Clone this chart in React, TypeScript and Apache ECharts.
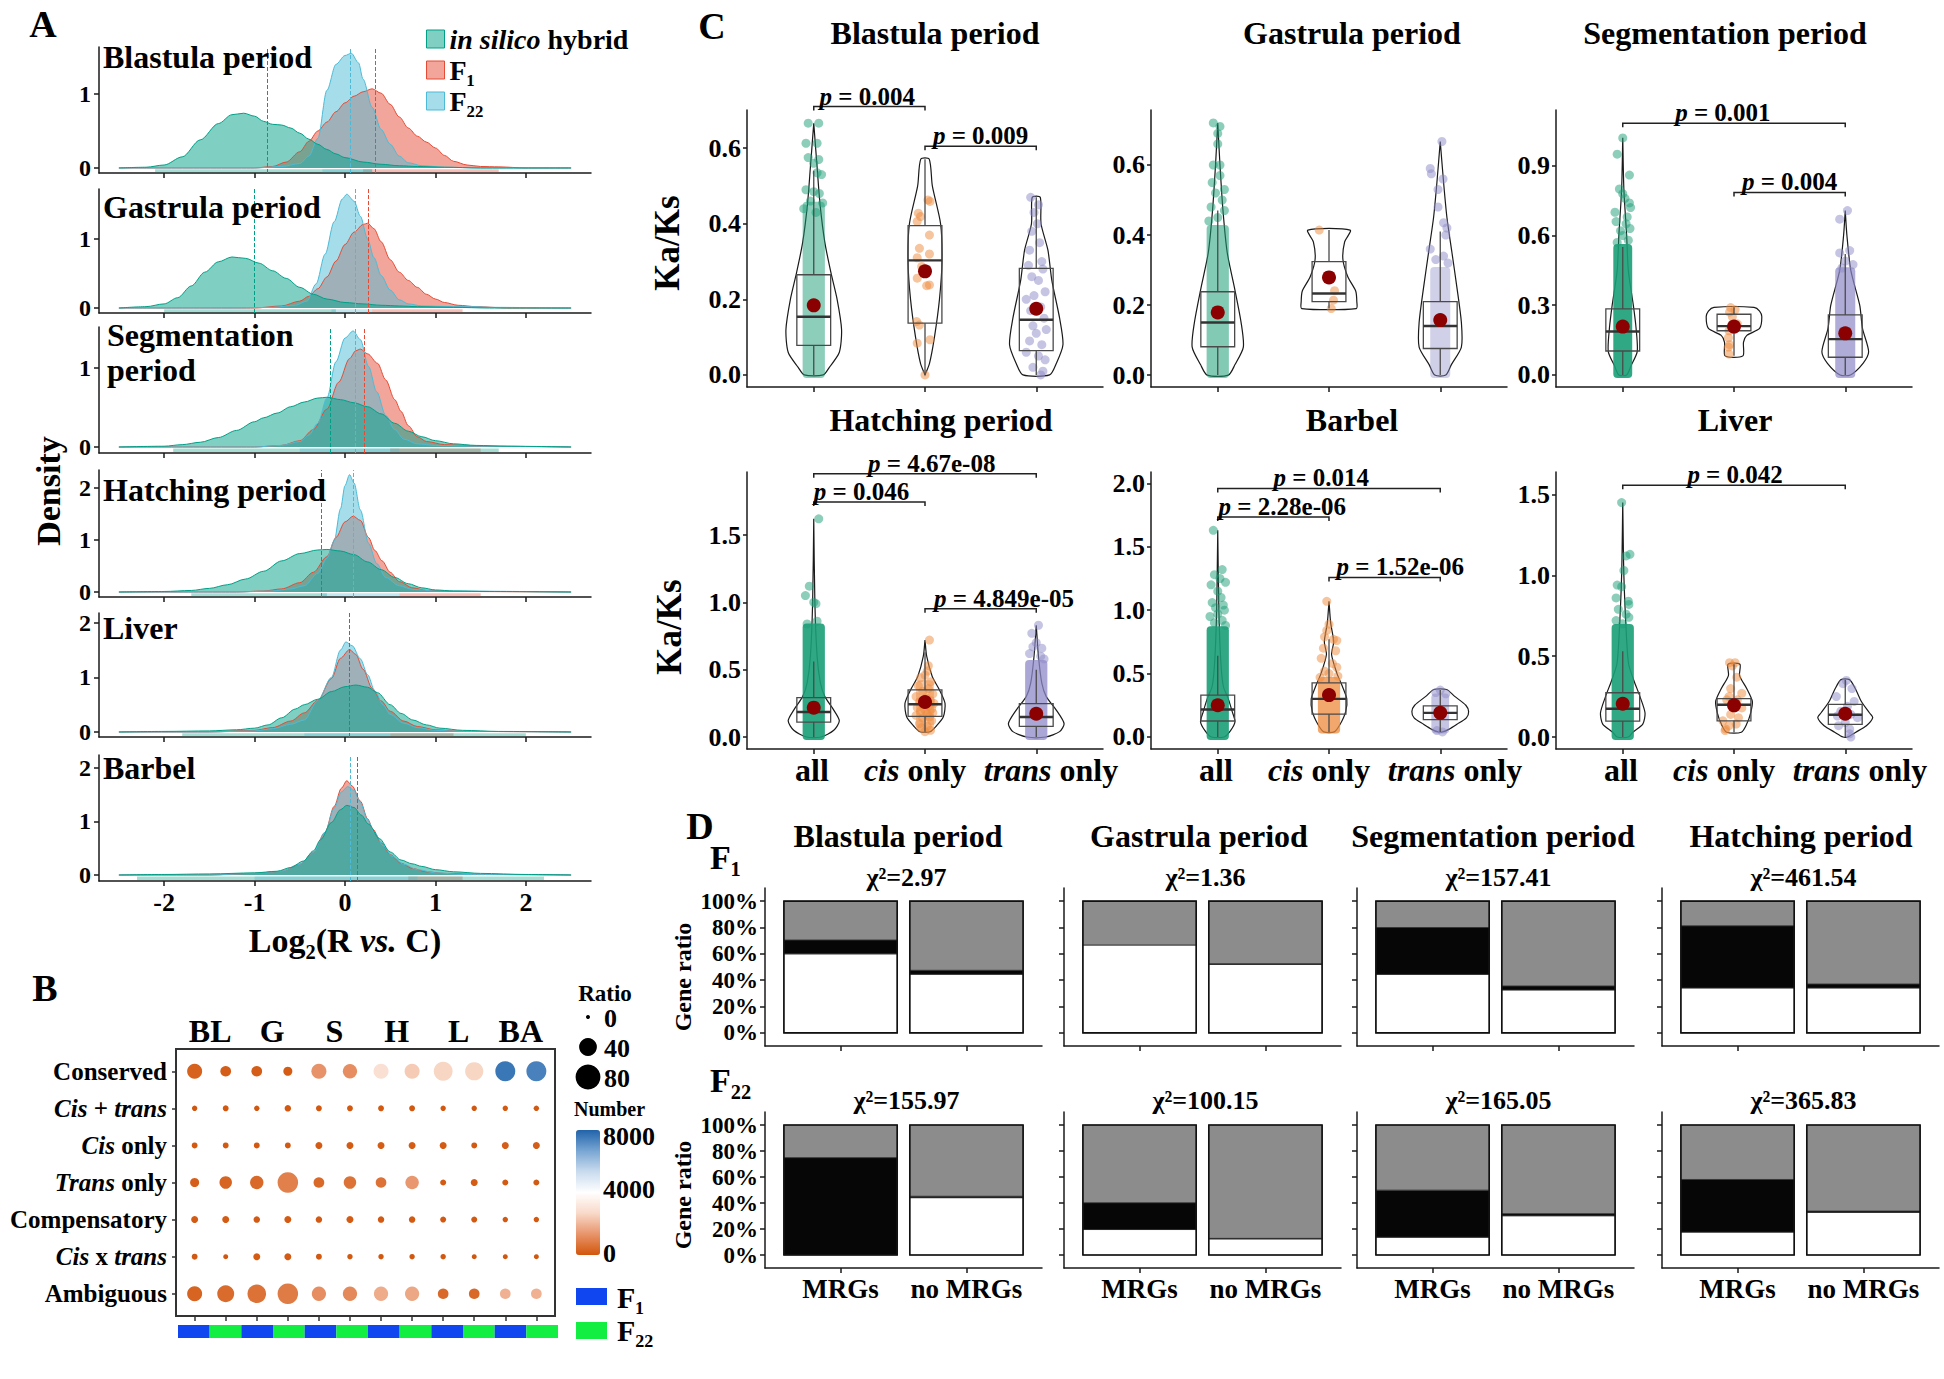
import React, { useEffect, useRef } from 'react';
import * as echarts from 'echarts';

const FONT = "'Liberation Serif', 'Times New Roman', serif";

/* ======================= Panel A : densities ======================= */
const aPeriods = ['Blastula period', 'Gastrula period', 'Segmentation', 'Hatching period', 'Liver', 'Barbel'];
const aGroups = ['in silico hybrid', 'F1', 'F22'];
const aXTicks = [-2, -1, 0, 1, 2];
const aYTicks = [[0, 1], [0, 1], [0, 1], [0, 1, 2], [0, 1, 2], [0, 1, 2]];
const aYLimits = [[-0.068, 1.635], [-0.072, 1.725], [-0.076, 1.52], [-0.096, 2.35], [-0.092, 2.18], [-0.112, 2.24]];

const blastulaInSilico = [[-2.5,0],[-2.2,0.01],[-2.0,0.04],[-1.8,0.15],[-1.6,0.38],[-1.4,0.6],[-1.25,0.72],[-1.12,0.74],[-1.0,0.7],[-0.9,0.63],[-0.8,0.59],[-0.7,0.58],[-0.6,0.54],[-0.5,0.47],[-0.4,0.39],[-0.3,0.32],[-0.2,0.25],[-0.1,0.19],[0,0.14],[0.2,0.08],[0.4,0.05],[0.6,0.03],[0.8,0.02],[1.1,0.01],[1.5,0],[2.5,0]];
const blastulaF1 = [[-2.5,0],[-1.0,0],[-0.8,0.02],[-0.65,0.08],[-0.5,0.22],[-0.4,0.36],[-0.3,0.5],[-0.2,0.62],[-0.1,0.76],[0,0.88],[0.1,0.97],[0.2,1.03],[0.3,1.07],[0.4,1.01],[0.5,0.86],[0.6,0.69],[0.7,0.54],[0.8,0.43],[0.9,0.35],[1.0,0.27],[1.1,0.17],[1.2,0.09],[1.35,0.04],[1.5,0.02],[1.7,0.015],[2.0,0],[2.5,0]];
const blastulaF22 = [[-2.5,0],[-1.0,0],[-0.7,0.02],[-0.5,0.06],[-0.4,0.16],[-0.3,0.4],[-0.2,1.05],[-0.1,1.4],[0,1.52],[0.07,1.55],[0.15,1.42],[0.2,1.2],[0.3,0.82],[0.4,0.52],[0.5,0.32],[0.6,0.16],[0.7,0.07],[0.85,0.03],[1.1,0.01],[1.5,0],[2.5,0]];

const gastrulaInSilico = [[-2.5,0],[-2.2,0.02],[-2.0,0.06],[-1.85,0.15],[-1.7,0.32],[-1.55,0.52],[-1.4,0.67],[-1.25,0.74],[-1.1,0.72],[-0.95,0.65],[-0.8,0.54],[-0.65,0.43],[-0.5,0.3],[-0.35,0.2],[-0.2,0.13],[0,0.08],[0.2,0.06],[0.4,0.04],[0.6,0.03],[0.8,0.02],[1.2,0.01],[1.6,0],[2.5,0]];
const gastrulaF1 = [[-2.5,0],[-1.0,0],[-0.7,0.03],[-0.5,0.1],[-0.4,0.17],[-0.3,0.28],[-0.2,0.45],[-0.1,0.68],[0,0.92],[0.1,1.1],[0.2,1.21],[0.25,1.23],[0.32,1.15],[0.4,0.96],[0.5,0.7],[0.6,0.52],[0.7,0.4],[0.8,0.3],[0.9,0.2],[1.0,0.13],[1.1,0.08],[1.25,0.04],[1.45,0.02],[1.8,0],[2.5,0]];
const gastrulaF22 = [[-2.5,0],[-1.2,0],[-0.8,0.01],[-0.55,0.04],[-0.42,0.1],[-0.32,0.35],[-0.22,0.78],[-0.12,1.25],[-0.03,1.58],[0.02,1.65],[0.1,1.55],[0.17,1.33],[0.25,1.0],[0.32,0.73],[0.4,0.47],[0.5,0.26],[0.6,0.12],[0.7,0.06],[0.85,0.03],[1.2,0.02],[1.45,0.02],[1.6,0.01],[2.5,0]];

const segmentationInSilico = [[-2.5,0],[-2.0,0.01],[-1.8,0.03],[-1.6,0.06],[-1.4,0.12],[-1.2,0.21],[-1.0,0.32],[-0.9,0.37],[-0.75,0.43],[-0.6,0.51],[-0.45,0.57],[-0.3,0.62],[-0.2,0.63],[-0.05,0.6],[0.1,0.56],[0.25,0.51],[0.4,0.42],[0.55,0.3],[0.7,0.2],[0.85,0.13],[1.0,0.08],[1.2,0.04],[1.45,0.02],[1.8,0.01],[2.5,0]];
const segmentationF1 = [[-2.5,0],[-1.0,0],[-0.7,0.02],[-0.5,0.08],[-0.35,0.22],[-0.2,0.48],[-0.07,0.82],[0.05,1.12],[0.12,1.22],[0.17,1.24],[0.25,1.18],[0.36,1.06],[0.45,0.85],[0.55,0.6],[0.62,0.45],[0.7,0.27],[0.8,0.13],[0.9,0.07],[1.1,0.03],[1.5,0.01],[2.5,0]];
const segmentationF22 = [[-2.5,0],[-1.0,0],[-0.7,0.02],[-0.5,0.07],[-0.4,0.15],[-0.3,0.3],[-0.2,0.62],[-0.1,1.08],[0.0,1.38],[0.09,1.47],[0.17,1.36],[0.26,1.02],[0.35,0.7],[0.45,0.4],[0.55,0.22],[0.65,0.1],[0.8,0.04],[1.0,0.02],[1.5,0.01],[2.5,0]];

const hatchingInSilico = [[-2.5,0],[-2.0,0.01],[-1.7,0.03],[-1.5,0.07],[-1.3,0.14],[-1.1,0.25],[-0.9,0.4],[-0.7,0.6],[-0.5,0.74],[-0.3,0.81],[-0.2,0.82],[-0.05,0.79],[0.1,0.72],[0.25,0.58],[0.4,0.43],[0.55,0.28],[0.7,0.16],[0.85,0.08],[1.0,0.04],[1.2,0.02],[1.6,0.01],[2.5,0]];
const hatchingF1 = [[-2.5,0],[-1.2,0],[-0.9,0.02],[-0.7,0.06],[-0.5,0.18],[-0.35,0.38],[-0.2,0.68],[-0.1,1.05],[0,1.35],[0.09,1.46],[0.17,1.38],[0.26,1.05],[0.33,0.8],[0.41,0.6],[0.5,0.38],[0.6,0.2],[0.75,0.08],[0.9,0.03],[1.2,0.01],[2.5,0]];
const hatchingF22 = [[-2.5,0],[-1.2,0],[-0.8,0.02],[-0.6,0.06],[-0.45,0.12],[-0.3,0.36],[-0.2,0.65],[-0.12,0.98],[-0.05,1.6],[0.0,2.05],[0.05,2.26],[0.1,2.1],[0.17,1.58],[0.26,0.94],[0.35,0.55],[0.45,0.28],[0.6,0.12],[0.75,0.05],[1.0,0.02],[2.5,0]];

const liverInSilico = [[-2.5,0],[-2.0,0.01],[-1.5,0.02],[-1.2,0.04],[-1.0,0.07],[-0.85,0.13],[-0.7,0.26],[-0.55,0.42],[-0.45,0.5],[-0.3,0.6],[-0.15,0.74],[0.0,0.83],[0.12,0.86],[0.25,0.82],[0.36,0.72],[0.5,0.5],[0.62,0.34],[0.75,0.22],[0.9,0.13],[1.05,0.07],[1.3,0.03],[1.7,0.01],[2.5,0]];
const liverF1 = [[-2.5,0],[-1.5,0],[-1.0,0.03],[-0.8,0.08],[-0.6,0.2],[-0.45,0.35],[-0.3,0.58],[-0.15,0.98],[-0.05,1.35],[0.05,1.51],[0.12,1.42],[0.2,1.15],[0.3,0.8],[0.4,0.57],[0.5,0.38],[0.65,0.2],[0.8,0.1],[1.0,0.04],[1.3,0.01],[2.5,0]];
const liverF22 = [[-2.5,0],[-1.5,0],[-1.0,0.02],[-0.8,0.06],[-0.6,0.14],[-0.45,0.22],[-0.3,0.58],[-0.15,1.0],[-0.05,1.5],[0.01,1.65],[0.08,1.58],[0.17,1.34],[0.25,1.05],[0.33,0.75],[0.42,0.5],[0.5,0.32],[0.65,0.16],[0.8,0.08],[1.0,0.03],[1.3,0.01],[2.5,0]];

const barbelInSilico = [[-2.5,0],[-2.0,0.01],[-1.5,0.02],[-1.0,0.04],[-0.75,0.07],[-0.6,0.14],[-0.46,0.26],[-0.35,0.45],[-0.27,0.66],[-0.15,0.98],[-0.05,1.22],[0.02,1.3],[0.1,1.26],[0.18,1.12],[0.26,0.95],[0.38,0.68],[0.5,0.43],[0.62,0.28],[0.74,0.21],[0.85,0.16],[1.0,0.1],[1.2,0.06],[1.5,0.03],[2.0,0.01],[2.5,0]];
const barbelF1 = [[-2.5,0],[-1.5,0],[-1.0,0.03],[-0.7,0.07],[-0.5,0.2],[-0.35,0.42],[-0.22,0.8],[-0.12,1.28],[-0.04,1.62],[0.02,1.76],[0.08,1.66],[0.17,1.38],[0.25,1.05],[0.31,0.85],[0.4,0.6],[0.5,0.38],[0.62,0.22],[0.75,0.12],[0.9,0.06],[1.1,0.03],[1.5,0.01],[2.5,0]];
const barbelF22 = [[-2.5,0],[-1.5,0],[-1.0,0.03],[-0.7,0.07],[-0.5,0.2],[-0.35,0.42],[-0.22,0.8],[-0.12,1.25],[-0.04,1.55],[0.03,1.65],[0.1,1.58],[0.17,1.35],[0.25,1.03],[0.33,0.78],[0.42,0.55],[0.52,0.35],[0.65,0.2],[0.8,0.1],[1.0,0.04],[1.3,0.01],[2.5,0]];

// mean lines [in silico, F1, F22]
const aMeans = [[-0.86, 0.33, 0.06], [-1.0, 0.26, 0.11], [-0.16, 0.21, 0.11], [-0.26, 0.09, 0.09], [0.05, 0.05, 0.05], [0.13, 0.06, 0.06]];
// extent of the rug of genes under each density [in silico, F1, F22]
const aRugs = [
  [[-2.1, 0.3], [0.2, 1.7], [-0.25, 0.3]],
  [[-2.0, -0.1], [0.3, 1.3], [-0.15, 0.3]],
  [[-1.9, 1.7], [0.5, 1.5], [-0.5, 0.6]],
  [[-1.7, -0.2], [0.6, 1.5], [-0.25, 0.6]],
  [[-1.8, 2.0], [0.5, 1.2], [-0.45, 0.5]],
  [[-2.3, 2.2], [0.7, 1.3], [-1.0, 0.8]],
];

/* ======================= Panel B : dot matrix ======================= */
const bRows = ['Conserved', '{i|Cis} + {i|trans}', '{i|Cis} only', '{i|Trans} only', 'Compensatory', '{i|Cis} x {i|trans}', 'Ambiguous'];
const bTissues = ['BL', 'G', 'S', 'H', 'L', 'BA'];
const bGenerations = ['F1', 'F22', 'F1', 'F22', 'F1', 'F22', 'F1', 'F22', 'F1', 'F22', 'F1', 'F22'];
const bRatio = [
  [28, 13, 13, 8.7, 28, 25, 28, 28, 45, 42, 51, 51],
  [1.8, 2.5, 1.8, 3.5, 2.5, 2.5, 2.5, 2.5, 1.8, 1.8, 1.8, 1.8],
  [2.5, 2.5, 2.5, 2.5, 4.4, 4.4, 4.4, 4.4, 4.4, 2.5, 4.4, 4.4],
  [8.7, 18.7, 21.8, 54, 13, 18.7, 13, 21.8, 2.7, 4.4, 2.7, 2.7],
  [4.4, 4.4, 3.5, 4.4, 3.5, 4.4, 3.5, 3.5, 2.5, 2.5, 1.8, 1.8],
  [2.5, 1.2, 4.4, 4.4, 2.5, 1.8, 1.8, 1.8, 1.8, 1.2, 1.2, 1.2],
  [28, 36, 44, 54, 25, 25, 25, 25, 13, 13, 13, 13],
];
const bNumber = [
  [250, 150, 150, 120, 1300, 1200, 2900, 2400, 2600, 2600, 7600, 7400],
  [30, 40, 30, 50, 60, 60, 70, 70, 40, 40, 50, 50],
  [50, 50, 50, 50, 100, 100, 120, 120, 100, 60, 150, 150],
  [200, 300, 400, 900, 400, 600, 600, 1400, 100, 120, 80, 80],
  [100, 100, 80, 100, 80, 100, 90, 90, 60, 60, 50, 50],
  [50, 30, 100, 100, 60, 50, 40, 40, 40, 30, 30, 30],
  [300, 450, 600, 800, 1200, 1100, 1800, 1700, 400, 400, 1900, 1900],
];
const bRatioLegend = [0, 40, 80];
const bNumberLegend = [0, 4000, 8000];

/* ======================= Panel C : Ka/Ks violins ======================= */
const cTitles = ['Blastula period', 'Gastrula period', 'Segmentation period', 'Hatching period', 'Barbel', 'Liver'];
const cCats = ['all', '{i|cis} only', '{i|trans} only'];
const cYLimits = [[-0.032, 0.701], [-0.034, 0.757], [-0.052, 1.14], [-0.089, 1.968], [-0.095, 2.09], [-0.074, 1.639]];
const cYTicks = [[0, 0.2, 0.4, 0.6], [0, 0.2, 0.4, 0.6], [0, 0.3, 0.6, 0.9], [0, 0.5, 1, 1.5], [0, 0.5, 1, 1.5, 2], [0, 0.5, 1, 1.5]];
// [lower whisker, q1, median, q3, upper whisker]
const cBoxes = [
  [[0, 0.078, 0.154, 0.265, 0.54], [0, 0.137, 0.303, 0.395, 0.571], [0, 0.064, 0.146, 0.282, 0.47]],
  [[0, 0.081, 0.15, 0.238, 0.47], [0.19, 0.21, 0.233, 0.324, 0.414], [0, 0.076, 0.14, 0.21, 0.41]],
  [[0, 0.103, 0.187, 0.284, 0.55], [0.082, 0.19, 0.21, 0.261, 0.291], [0, 0.076, 0.154, 0.258, 0.52]],
  [[0, 0.111, 0.186, 0.292, 0.56], [0.04, 0.153, 0.243, 0.35, 0.63], [0, 0.079, 0.149, 0.248, 0.5]],
  [[0, 0.126, 0.216, 0.33, 0.64], [0.04, 0.18, 0.3, 0.426, 0.77], [0.04, 0.137, 0.19, 0.245, 0.37]],
  [[0, 0.099, 0.175, 0.274, 0.53], [0.03, 0.1, 0.2, 0.237, 0.45], [0, 0.078, 0.138, 0.202, 0.355]],
];
const cMeans = [[0.184, 0.274, 0.175], [0.179, 0.279, 0.157], [0.208, 0.208, 0.179], [0.218, 0.26, 0.173], [0.25, 0.33, 0.19], [0.206, 0.196, 0.144]];
// brackets: [from group, to group, y, label centre, p]
const cBrackets = [
  [[1, 2, 0.71, 1.48, '0.004'], [2, 3, 0.605, 2.5, '0.009']],
  [],
  [[1, 3, 1.083, 1.9, '0.001'], [2, 3, 0.785, 2.5, '0.004']],
  [[1, 2, 1.745, 1.43, '0.046'], [1, 3, 1.955, 2.06, '4.67e-08'], [2, 3, 0.953, 2.71, '4.849e-05']],
  [[1, 2, 1.735, 1.58, '2.28e-06'], [1, 3, 1.96, 1.93, '0.014'], [2, 3, 1.258, 2.64, '1.52e-06']],
  [[1, 3, 1.557, 2.01, '0.042']],
];
// violin outlines: [Ka/Ks, half width]
const violinBlastula = [
  [[0,0.085],[0.02,0.14],[0.06,0.23],[0.12,0.25],[0.2,0.21],[0.27,0.155],[0.35,0.1],[0.45,0.057],[0.55,0.03],[0.666,0]],
  [[0,0],[0.03,0.04],[0.1,0.085],[0.2,0.13],[0.3,0.153],[0.4,0.14],[0.5,0.066],[0.571,0.038]],
  [[0,0.12],[0.03,0.18],[0.08,0.24],[0.15,0.21],[0.25,0.14],[0.33,0.105],[0.4,0.043],[0.47,0.036]],
];
const violinGastrula = [
  [[0,0.095],[0.03,0.155],[0.08,0.23],[0.15,0.21],[0.25,0.15],[0.35,0.085],[0.47,0.047],[0.6,0.02],[0.72,0]],
  [[0.19,0.245],[0.21,0.25],[0.24,0.24],[0.28,0.17],[0.33,0.125],[0.38,0.14],[0.414,0.19]],
  [[0,0.05],[0.03,0.1],[0.08,0.19],[0.15,0.19],[0.25,0.15],[0.35,0.105],[0.45,0.06],[0.55,0.03],[0.667,0]],
];
const violinSegmentation = [
  [[0,0.035],[0.04,0.075],[0.1,0.13],[0.2,0.12],[0.3,0.095],[0.45,0.05],[0.6,0.035],[0.8,0.01],[1.02,0]],
  [[0.082,0.08],[0.14,0.085],[0.17,0.115],[0.2,0.23],[0.25,0.25],[0.275,0.23],[0.291,0.18]],
  [[0,0.046],[0.05,0.16],[0.1,0.21],[0.2,0.155],[0.3,0.13],[0.45,0.05],[0.6,0.015],[0.707,0]],
];
const violinHatching = [
  [[0,0.065],[0.05,0.18],[0.12,0.23],[0.2,0.18],[0.3,0.1],[0.4,0.06],[0.6,0.03],[1.0,0.01],[1.62,0]],
  [[0.04,0.047],[0.08,0.1],[0.15,0.165],[0.25,0.18],[0.35,0.13],[0.45,0.065],[0.6,0.015],[0.72,0]],
  [[0,0.085],[0.04,0.21],[0.1,0.25],[0.2,0.18],[0.3,0.09],[0.4,0.05],[0.6,0.02],[0.83,0]],
];
const violinBarbel = [
  [[0,0.057],[0.05,0.115],[0.12,0.155],[0.2,0.13],[0.3,0.095],[0.4,0.05],[0.6,0.027],[1.0,0.01],[1.63,0]],
  [[0.04,0.047],[0.1,0.1],[0.2,0.15],[0.3,0.16],[0.4,0.12],[0.5,0.072],[0.65,0.023],[0.75,0.042],[0.9,0.015],[1.07,0]],
  [[0.04,0.02],[0.06,0.076],[0.1,0.15],[0.15,0.235],[0.2,0.255],[0.25,0.23],[0.32,0.13],[0.374,0.057]],
];
const violinLiver = [
  [[0,0.05],[0.03,0.09],[0.08,0.18],[0.15,0.2],[0.25,0.155],[0.35,0.1],[0.45,0.053],[0.6,0.035],[1.0,0.01],[1.45,0]],
  [[0.03,0.066],[0.08,0.114],[0.15,0.15],[0.22,0.165],[0.3,0.114],[0.38,0.05],[0.45,0.053]],
  [[0,0.02],[0.03,0.095],[0.07,0.19],[0.12,0.247],[0.15,0.217],[0.22,0.145],[0.3,0.09],[0.355,0.038]],
];
// dense jittered clouds: [group, from, to, half width, crowding]
const cloudBlastula = [[1, 0, 0.45, 0.1, 0.5]];
const cloudGastrula = [[1, 0, 0.42, 0.1, 0.55], [3, 0, 0.3, 0.09, 0.4]];
const cloudSegmentation = [[1, 0, 0.55, 0.085, 0.9], [3, 0, 0.45, 0.09, 0.7]];
const cloudHatching = [[1, 0, 0.82, 0.1, 0.9], [2, 0.06, 0.4, 0.08, 0.45], [3, 0, 0.55, 0.1, 0.75]];
const cloudBarbel = [[1, 0, 0.85, 0.1, 0.9], [2, 0.05, 0.45, 0.1, 0.75], [3, 0.05, 0.32, 0.08, 0.5]];
const cloudLiver = [[1, 0, 0.68, 0.1, 0.9]];
// sparse jittered points: [jitter, Ka/Ks]
const ptsBlastula = [
  [[-0.05,0.666],[0.045,0.666],[-0.07,0.613],[0.03,0.613],[-0.05,0.575],[0.045,0.57],[0,0.56],[0.03,0.535],[0.07,0.53],[-0.07,0.49],[0,0.485],[0.05,0.48],[-0.03,0.46],[0.08,0.455],[-0.09,0.44],[0.02,0.43]],
  [[0.027,0.463],[0.045,0.459],[-0.06,0.428],[-0.04,0.419],[-0.07,0.406],[0.04,0.37],[-0.05,0.335],[0.04,0.32],[-0.07,0.31],[-0.03,0.287],[-0.07,0.256],[0.04,0.238],[0.015,0.236],[-0.075,0.141],[-0.05,0.132],[0.045,0.093],[-0.07,0.084],[0,0]],
  [[-0.05,0.47],[0.02,0.45],[-0.02,0.43],[0.01,0.4],[-0.04,0.38],[0.03,0.35],[-0.06,0.33],[0.05,0.3],[-0.07,0.29],[0.06,0.28],[-0.04,0.26],[0.02,0.25],[0.08,0.22],[-0.02,0.21],[-0.09,0.2],[0.04,0.18],[-0.05,0.17],[0.07,0.15],[-0.03,0.13],[0.09,0.12],[0,0.11],[-0.06,0.09],[0.05,0.08],[-0.09,0.06],[0.02,0.05],[0.08,0.04],[-0.03,0.02],[0.06,0.01],[0.04,0]],
];
const ptsGastrula = [
  [[-0.04,0.72],[0.02,0.71],[0,0.69],[0,0.66],[-0.04,0.6],[0.02,0.6],[0.02,0.57],[-0.05,0.55],[0.06,0.53],[-0.02,0.52],[0.04,0.5],[-0.06,0.48],[0.06,0.47],[0,0.45],[-0.08,0.44]],
  [[-0.088,0.414],[0.05,0.241],[0.04,0.214],[0.02,0.19]],
  [[0.015,0.667],[-0.09,0.59],[-0.08,0.575],[0.025,0.56],[-0.02,0.53],[-0.02,0.48],[0.03,0.435],[0.06,0.42],[0.05,0.4],[-0.09,0.36],[0.03,0.34],[-0.04,0.33],[0.07,0.32]],
];
const ptsSegmentation = [
  [[0,1.02],[-0.05,0.95],[0.06,0.86],[-0.03,0.8],[0,0.78],[0.02,0.76],[0.06,0.74],[0.07,0.72],[-0.07,0.7],[0.04,0.68],[-0.06,0.66],[0.03,0.65],[0.065,0.63],[-0.02,0.62],[0,0.6],[0.05,0.58],[-0.05,0.57]],
  [[-0.03,0.29],[0.01,0.28],[-0.04,0.27],[-0.015,0.25],[0.03,0.22],[-0.045,0.19],[-0.05,0.16],[-0.04,0.13],[-0.05,0.12],[-0.045,0.09]],
  [[0.02,0.707],[-0.05,0.67],[0.04,0.535],[-0.05,0.525],[0,0.49],[0.07,0.475],[-0.03,0.46]],
];
const ptsHatching = [
  [[0.045,1.62],[-0.04,1.12],[-0.075,1.05],[0,1.0],[0.02,0.99],[0.03,0.86],[-0.06,0.84]],
  [[0.04,0.72],[0.03,0.53],[0.02,0.49],[0,0.46],[-0.04,0.44],[0.05,0.41],[-0.06,0.38],[0.03,0.36],[-0.02,0.34],[0.07,0.32],[-0.08,0.3],[0.01,0.29],[0.05,0.27],[-0.05,0.26],[0.08,0.25],[-0.02,0.24],[0.03,0.23],[-0.07,0.22],[0.06,0.21],[0,0.2],[-0.04,0.19],[0.07,0.18],[0.02,0.17],[-0.08,0.16],[0.04,0.15],[-0.02,0.14],[0.06,0.12],[-0.05,0.1],[0.02,0.08],[-0.03,0.07],[0.05,0.05],[0,0.04]],
  [[0.02,0.83],[-0.04,0.77],[0,0.7],[-0.03,0.67],[0.05,0.66],[-0.06,0.62],[0.04,0.6],[0.07,0.58]],
];
const ptsBarbel = [
  [[-0.04,1.63],[0.04,1.32],[-0.03,1.28],[0.02,1.25],[0.07,1.22],[-0.06,1.2],[0,1.15],[0.03,1.1],[-0.05,1.06],[0.05,1.04],[-0.02,1.02],[0.06,1.0],[0,0.97],[-0.07,0.95],[0.04,0.92],[-0.03,0.9],[0.07,0.88]],
  [[-0.02,1.07],[0,0.89],[-0.02,0.84],[-0.04,0.79],[0.04,0.77],[0.07,0.76],[-0.05,0.7],[0.06,0.68],[-0.07,0.62],[0.03,0.58],[0.07,0.55],[-0.04,0.52],[0,0.5],[0.08,0.48],[-0.08,0.47]],
  [[0,0.37],[-0.04,0.35],[0.05,0.34],[0.02,0.04],[-0.03,0.05]],
];
const ptsLiver = [
  [[-0.01,1.45],[0.065,1.13],[0.03,1.12],[0.01,1.03],[-0.05,0.94],[-0.01,0.93],[-0.06,0.86],[0.05,0.84],[0.055,0.82],[-0.04,0.79],[0.03,0.76],[0.055,0.74],[-0.06,0.72],[0,0.7]],
  [[-0.04,0.46],[0.01,0.46],[-0.015,0.44],[0.025,0.37],[-0.03,0.3],[0.07,0.27],[-0.045,0.25],[0.03,0.23],[-0.065,0.23],[0,0.2],[0.07,0.18],[-0.03,0.14],[0.04,0.12],[-0.1,0.1],[0.02,0.08],[-0.045,0.07],[-0.075,0.05],[-0.08,0.04]],
  [[0.01,0.35],[-0.02,0.33],[0.06,0.3],[-0.08,0.25],[0.08,0.22],[0.02,0.19],[-0.04,0.16],[0.05,0.14],[-0.07,0.13],[0.11,0.12],[0,0.09],[-0.06,0.07],[0.04,0.05],[0.04,0.02],[0.05,0]],
];

/* ======================= Panel D : mosaic ======================= */
const dPeriods = ['Blastula period', 'Gastrula period', 'Segmentation period', 'Hatching period'];
const dCats = ['MRGs', 'no MRGs'];
const dYTicks = [0, 0.2, 0.4, 0.6, 0.8, 1];
const dChiF1 = ['2.97', '1.36', '157.41', '461.54'];
const dChiF22 = ['155.97', '100.15', '165.05', '365.83'];
// fractions per period: [MRGs, no MRGs]
const dWhiteF1 = [[0.6, 0.445], [0.667, 0.52], [0.444, 0.326], [0.341, 0.341]];
const dBlackF1 = [[0.105, 0.03], [0, 0.005], [0.356, 0.03], [0.472, 0.03]];
const dWhiteF22 = [[0, 0.441], [0.196, 0.124], [0.137, 0.302], [0.176, 0.328]];
const dBlackF22 = [[0.749, 0.011], [0.206, 0.004], [0.362, 0.016], [0.405, 0.01]];

/* ======================= layout & style ======================= */
const A_LEFT = 99, A_WIDTH = 492, A_XMIN = -2.72, A_XMAX = 2.72;
const A_TOPS = [47, 189, 327, 470, 613, 755];
const A_HEIGHTS = [126, 124, 126, 127, 124, 126];
const A_COLORS = ['#00A087', '#E64B35', '#4DBBD5'];
const C_LEFTS = [747, 1151, 1556], C_TOPS = [110, 472], C_W = 356, C_H = 277;
const C_LABEL_DX = [65, 168, 304], C_LABEL_Y = 770;
const C_COLORS = ['#1B9E77', '#EE8A3C', '#8D89C8'];
const D_LEFTS = [765, 1064, 1357, 1662], D_TOPS = [888, 1112], D_HS = [158, 156], D_W = 277;
const D_FILLS = ['#ffffff', '#060606', '#8c8c8c'];
const GEN_COLORS: any = { F1: '#1046f0', F22: '#12ef42' };

const lbl = (size: number, extra: any = {}) => ({ fontFamily: FONT, fontWeight: 'bold', fontSize: size, color: '#000', ...extra });
const gRich = (size: number, italic: boolean) => ({ fontFamily: FONT, fontWeight: 'bold', fontStyle: italic ? 'italic' : 'normal', fontSize: size, fill: '#000' });
function gText(x: number, y: number, text: string, size: number, opt: any = {}) {
  return {
    type: 'text', x, y, rotation: opt.rot || 0, z: 100, silent: true,
    style: {
      text, fill: '#000', fontFamily: FONT, fontWeight: 'bold', fontSize: size, fontStyle: opt.italic ? 'italic' : 'normal',
      align: opt.align || 'center', verticalAlign: opt.va || 'middle',
      rich: { i: gRich(size, true), b: gRich(size, false) },
    },
  };
}

function buildOption() {
  const grid: any[] = [], xAxis: any[] = [], yAxis: any[] = [], series: any[] = [], graphic: any[] = [];
  const AX = { color: '#1a1a1a', width: 1.5 };
  const addGrid = (g: any, x: any, y: any) => {
    grid.push(g);
    const gi = grid.length - 1;
    xAxis.push({ gridIndex: gi, splitLine: { show: false }, ...x });
    yAxis.push({ gridIndex: gi, splitLine: { show: false }, ...y });
    return [xAxis.length - 1, yAxis.length - 1];
  };

  /* ---------- A ---------- */
  const aCurves = [
    [blastulaInSilico, blastulaF1, blastulaF22], [gastrulaInSilico, gastrulaF1, gastrulaF22],
    [segmentationInSilico, segmentationF1, segmentationF22], [hatchingInSilico, hatchingF1, hatchingF22],
    [liverInSilico, liverF1, liverF22], [barbelInSilico, barbelF1, barbelF22],
  ];
  aCurves.forEach((curves, i) => {
    const [xi, yi] = addGrid(
      { left: A_LEFT, top: A_TOPS[i], width: A_WIDTH, height: A_HEIGHTS[i] },
      { type: 'value', min: A_XMIN, max: A_XMAX, axisLine: { show: true, onZero: false, lineStyle: AX },
        axisTick: { show: true, customValues: aXTicks, length: 5, lineStyle: AX },
        axisLabel: { show: i === 5, customValues: aXTicks, margin: 8, showMinLabel: true, showMaxLabel: true, ...lbl(26) } },
      { type: 'value', min: aYLimits[i][0], max: aYLimits[i][1], axisLine: { show: true, onZero: false, lineStyle: AX },
        axisTick: { show: true, customValues: aYTicks[i], length: 5, lineStyle: AX },
        axisLabel: { customValues: aYTicks[i], margin: 8, showMinLabel: true, showMaxLabel: true, ...lbl(24) } },
    );
    // rug of genes just under the baseline
    const ylo = aYLimits[i][0];
    series.push({
      type: 'custom', name: 'rug', xAxisIndex: xi, yAxisIndex: yi, silent: true, clip: true, z: 1,
      data: [1, 0, 2].map((k) => [aRugs[i][k][0], aRugs[i][k][1], k]), encode: { x: [0, 1] },
      renderItem: (params: any, api: any) => {
        const k = api.value(2);
        const p1 = api.coord([api.value(0), ylo * 0.25]), p2 = api.coord([api.value(1), ylo * 0.85]);
        return { type: 'rect', shape: { x: p1[0], y: p1[1], width: p2[0] - p1[0], height: p2[1] - p1[1] },
          style: { fill: A_COLORS[k], opacity: 0.35 } };
      },
    });
    [1, 2, 0].forEach((k) => {
      series.push({
        type: 'line', name: aGroups[k], xAxisIndex: xi, yAxisIndex: yi, data: curves[k],
        smooth: 0.3, smoothMonotone: 'x', symbol: 'none', silent: true, z: 2,
        lineStyle: { color: A_COLORS[k], width: 1 }, itemStyle: { color: A_COLORS[k] },
        areaStyle: { color: A_COLORS[k], opacity: 0.5 },
        markLine: { silent: true, symbol: 'none', label: { show: false }, animation: false,
          lineStyle: { color: A_COLORS[k], type: 'dashed', width: 1 }, data: [{ xAxis: aMeans[i][k] }] },
      });
    });
  });
  const aTitlePos = [[103, 57], [103, 207], [107, 335], [103, 490], [103, 628], [103, 768]];
  aPeriods.forEach((t, i) => graphic.push(gText(aTitlePos[i][0], aTitlePos[i][1], t, 32, { align: 'left' })));
  graphic.push(gText(107, 370, 'period', 32, { align: 'left' }));
  graphic.push(gText(48, 491, 'Density', 34, { rot: Math.PI / 2 }));
  graphic.push(gText(345, 940, '{b|Log₂(R }{i|vs.}{b| C)}', 34));

  /* ---------- B ---------- */
  grid.push({ left: 176, top: 1049, width: 379, height: 267, show: true, borderColor: '#333', borderWidth: 2 });
  const gB = grid.length - 1;
  const bCols = bGenerations.map((_, c) => c + 1);
  const bRowIdx = bRows.map((_, r) => r + 1);
  const bTissuePos = bTissues.map((_, t) => 2 * t + 1.5);
  xAxis.push({ type: 'value', gridIndex: gB, min: 0.4, max: 12.6, axisLine: { show: false },
    axisTick: { show: true, customValues: bCols, length: 5, lineStyle: { color: '#333', width: 1.5 } },
    axisLabel: { show: false }, splitLine: { show: false } });
  const xB = xAxis.length - 1;
  xAxis.push({ type: 'value', gridIndex: gB, position: 'top', min: 0.4, max: 12.6, axisLine: { show: false }, axisTick: { show: false },
    axisLabel: { customValues: bTissuePos, formatter: (v: number) => bTissues[Math.round((v - 1.5) / 2)], margin: 2,
      showMinLabel: true, showMaxLabel: true, ...lbl(32) },
    splitLine: { show: false } });
  yAxis.push({ type: 'value', gridIndex: gB, min: 0.4, max: 7.6, inverse: true, axisLine: { show: false },
    axisTick: { show: true, customValues: bRowIdx, length: 4, lineStyle: { color: '#333', width: 1.5 } },
    axisLabel: { customValues: bRowIdx, formatter: (v: number) => bRows[Math.round(v) - 1], margin: 9, ...lbl(25),
      showMinLabel: true, showMaxLabel: true, rich: { i: lbl(25, { fontStyle: 'italic' }) } },
    splitLine: { show: false } });
  const yB = yAxis.length - 1;
  const bData: any[] = [];
  bRows.forEach((_, r) => bCols.forEach((c) => bData.push([c, r + 1, bRatio[r][c - 1], bNumber[r][c - 1]])));
  const sizeOf = (ratio: number) => Math.sqrt(16 + 7.5 * ratio);
  series.push({ type: 'scatter', name: 'dots', xAxisIndex: xB, yAxisIndex: yB, data: bData, silent: true, z: 3,
    symbolSize: (v: number[]) => sizeOf(v[2]), itemStyle: { opacity: 1 } });
  const bSeriesIdx = series.length - 1;
  // strip of generations
  const [xs, ys] = addGrid({ left: 178, top: 1325, width: 380, height: 13 },
    { type: 'category', data: bCols.map(String), show: false },
    { type: 'value', min: 0, max: 1, show: false });
  series.push({ type: 'bar', name: 'gen', xAxisIndex: xs, yAxisIndex: ys, silent: true, barWidth: '100%', barCategoryGap: '0%',
    data: bGenerations.map((g) => ({ value: 1, itemStyle: { color: GEN_COLORS[g] } })) });
  // legends of B
  graphic.push(gText(605, 993, 'Ratio', 23));
  const ratioY = [1017, 1047, 1077];
  bRatioLegend.forEach((r, k) => {
    graphic.push({ type: 'circle', x: 588, y: ratioY[k], shape: { cx: 0, cy: 0, r: sizeOf(r) / 2 }, style: { fill: '#000' }, silent: true });
    graphic.push(gText(604, ratioY[k] + 1, String(r), 26, { align: 'left' }));
  });
  graphic.push(gText(574, 1109, 'Number', 20, { align: 'left' }));
  const numY = [1253, 1189, 1136];
  bNumberLegend.forEach((n, k) => graphic.push(gText(603, numY[k], String(n), 26, { align: 'left' })));
  graphic.push({ type: 'rect', shape: { x: 576, y: 1288, width: 31, height: 17 }, style: { fill: GEN_COLORS.F1 }, silent: true });
  graphic.push({ type: 'rect', shape: { x: 576, y: 1322, width: 31, height: 17 }, style: { fill: GEN_COLORS.F22 }, silent: true });
  graphic.push(gText(617, 1297, 'F₁', 30, { align: 'left' }));
  graphic.push(gText(617, 1330, 'F₂₂', 30, { align: 'left' }));

  /* ---------- C ---------- */
  const cViolins = [violinBlastula, violinGastrula, violinSegmentation, violinHatching, violinBarbel, violinLiver];
  const cClouds = [cloudBlastula, cloudGastrula, cloudSegmentation, cloudHatching, cloudBarbel, cloudLiver];
  const cPts = [ptsBlastula, ptsGastrula, ptsSegmentation, ptsHatching, ptsBarbel, ptsLiver];
  const cGroups = [1, 2, 3];
  cTitles.forEach((title, i) => {
    const col = i % 3, row = Math.floor(i / 3);
    const [xi, yi] = addGrid(
      { left: C_LEFTS[col], top: C_TOPS[row], width: C_W, height: C_H },
      { type: 'value', min: 0.4, max: 3.6, axisLine: { show: true, onZero: false, lineStyle: AX },
        axisTick: { show: true, customValues: cGroups, length: 5, lineStyle: AX },
        axisLabel: { show: false } },
      { type: 'value', min: cYLimits[i][0], max: cYLimits[i][1], axisLine: { show: true, onZero: false, lineStyle: AX },
        axisTick: { show: true, customValues: cYTicks[i], length: 4, lineStyle: AX },
        axisLabel: { customValues: cYTicks[i], formatter: (v: number) => v.toFixed(1), margin: 6, showMinLabel: true, showMaxLabel: true, ...lbl(26) } },
    );
    if (row === 1) {
      cCats.forEach((c, k) => graphic.push(gText(C_LEFTS[col] + C_LABEL_DX[k], C_LABEL_Y, c, 32)));
    }
    const profiles = cViolins[i];
    series.push({
      type: 'custom', name: 'violin', xAxisIndex: xi, yAxisIndex: yi, silent: true, clip: false, z: 2,
      data: profiles.map((p, g) => [g + 1, p[p.length - 1][0]]), encode: { x: 0, y: 1 },
      renderItem: (params: any, api: any) => {
        const g = api.value(0);
        const prof = profiles[params.dataIndex];
        const left = prof.map(([v, hw]) => api.coord([g - hw, v]));
        const right = prof.slice().reverse().map(([v, hw]) => api.coord([g + hw, v]));
        return { type: 'polygon', shape: { points: left.concat(right), smooth: 0.25 }, style: { fill: 'none', stroke: '#1a1a1a', lineWidth: 1.2 } };
      },
    });
    series.push({
      type: 'custom', name: 'cloud', xAxisIndex: xi, yAxisIndex: yi, silent: true, clip: false, z: 3,
      data: cClouds[i], encode: { x: 0, y: [1, 2] },
      renderItem: (params: any, api: any) => {
        const g = api.value(0), lo = api.value(1), hi = api.value(2), hw = api.value(3), a = api.value(4);
        const p1 = api.coord([g - hw, hi]), p2 = api.coord([g + hw, lo]);
        return { type: 'rect', shape: { x: p1[0], y: p1[1] - 3, width: p2[0] - p1[0], height: p2[1] - p1[1] + 6, r: 4 },
          style: { fill: C_COLORS[g - 1], opacity: a } };
      },
    });
    cGroups.forEach((g) => {
      series.push({ type: 'scatter', name: 'pts', xAxisIndex: xi, yAxisIndex: yi, silent: true, z: 4, symbolSize: 9,
        itemStyle: { color: C_COLORS[g - 1], opacity: 0.5 },
        data: cPts[i][g - 1].map(([o, v]) => [g + o, v]) });
    });
    series.push({
      type: 'custom', name: 'box', xAxisIndex: xi, yAxisIndex: yi, silent: true, clip: false, z: 5,
      data: cBoxes[i].map((b, g) => [g + 1, ...b]), encode: { x: 0, y: [1, 2, 3, 4, 5] },
      renderItem: (params: any, api: any) => {
        const g = api.value(0), hw = 0.152;
        const lo = api.value(1), q1 = api.value(2), med = api.value(3), q3 = api.value(4), hi = api.value(5);
        const c = (x: number, v: number) => api.coord([x, v]);
        const tl = c(g - hw, q3), br = c(g + hw, q1), m1 = c(g - hw, med), m2 = c(g + hw, med);
        const st = { stroke: '#4a4a4a', lineWidth: 1.3, fill: 'none' };
        return { type: 'group', children: [
          { type: 'line', shape: { x1: c(g, q3)[0], y1: c(g, q3)[1], x2: c(g, hi)[0], y2: c(g, hi)[1] }, style: st },
          { type: 'line', shape: { x1: c(g, q1)[0], y1: c(g, q1)[1], x2: c(g, lo)[0], y2: c(g, lo)[1] }, style: st },
          { type: 'rect', shape: { x: tl[0], y: tl[1], width: br[0] - tl[0], height: br[1] - tl[1] }, style: st },
          { type: 'line', shape: { x1: m1[0], y1: m1[1], x2: m2[0], y2: m2[1] }, style: { stroke: '#333', lineWidth: 2.4 } },
        ] };
      },
    });
    series.push({ type: 'scatter', name: 'mean', xAxisIndex: xi, yAxisIndex: yi, silent: true, z: 6, symbolSize: 14,
      itemStyle: { color: '#8B0000', opacity: 1 }, data: cMeans[i].map((m, g) => [g + 1, m]) });
    const br = cBrackets[i];
    if (br.length) {
      series.push({
        type: 'custom', name: 'bracket', xAxisIndex: xi, yAxisIndex: yi, silent: true, clip: false, z: 7,
        data: br.map((b) => [b[0], b[1], b[2], b[3]]), encode: { x: [0, 1, 3], y: 2 },
        renderItem: (params: any, api: any) => {
          const x1 = api.value(0), x2 = api.value(1), y = api.value(2), tx = api.value(3);
          const p1 = api.coord([x1, y]), p2 = api.coord([x2, y]), pt = api.coord([tx, y]);
          return { type: 'group', children: [
            { type: 'polyline', shape: { points: [[p1[0], p1[1] + 4], [p1[0], p1[1]], [p2[0], p2[1]], [p2[0], p2[1] + 4]] },
              style: { stroke: '#222', lineWidth: 1.5, fill: 'none' } },
            { type: 'text', x: pt[0], y: p1[1] + 2, style: { text: '{i|p}{b| = ' + br[params.dataIndex][4] + '}', align: 'center', verticalAlign: 'bottom',
              fontFamily: FONT, fontWeight: 'bold', fontSize: 25, fill: '#000', rich: { i: gRich(25, true), b: gRich(25, false) } } },
          ] };
        },
      });
    }
  });
  const cTitlePos = [[935, 33], [1352, 33], [1725, 33], [941, 420], [1352, 420], [1735, 420]];
  cTitles.forEach((t, i) => graphic.push(gText(cTitlePos[i][0], cTitlePos[i][1], t, 32)));
  graphic.push(gText(667, 243, 'Ka/Ks', 35, { rot: Math.PI / 2 }));
  graphic.push(gText(669, 627, 'Ka/Ks', 35, { rot: Math.PI / 2 }));

  /* ---------- D ---------- */
  const dGens = [[dWhiteF1, dBlackF1, dChiF1], [dWhiteF22, dBlackF22, dChiF22]];
  dGens.forEach(([whites, blacks, chis]: any, row) => {
    dPeriods.forEach((_, col) => {
      const [xi, yi] = addGrid(
        { left: D_LEFTS[col], top: D_TOPS[row], width: D_W, height: D_HS[row] },
        { type: 'value', min: 0.4, max: 2.6, axisLine: { show: true, onZero: false, lineStyle: AX },
          axisTick: { show: true, customValues: [1, 2], length: 5, lineStyle: AX },
          axisLabel: { show: row === 1, customValues: [1, 2], formatter: (v: number) => dCats[Math.round(v) - 1], margin: 7,
            showMinLabel: true, showMaxLabel: true, hideOverlap: false, ...lbl(27) } },
        { type: 'value', min: -0.1, max: 1.1, axisLine: { show: true, onZero: false, lineStyle: AX },
          axisTick: { show: true, customValues: dYTicks, length: 5, lineStyle: AX },
          axisLabel: { show: col === 0, customValues: dYTicks, formatter: (v: number) => Math.round(v * 100) + '%', margin: 7,
            showMinLabel: true, showMaxLabel: true, ...lbl(23) } },
      );
      const segs: any[] = [];
      dCats.forEach((_, c) => {
        const w = whites[col][c], b = blacks[col][c];
        if (w > 0) segs.push([c + 1, 0, w, 0]);
        if (b > 0) segs.push([c + 1, w, w + b, 1]);
        segs.push([c + 1, w + b, 1, 2]);
        segs.push([c + 1, 0, 1, 3]);
      });
      series.push({
        type: 'custom', name: 'mosaic', xAxisIndex: xi, yAxisIndex: yi, silent: true, clip: false, z: 3,
        data: segs, encode: { x: 0, y: [1, 2] },
        renderItem: (params: any, api: any) => {
          const c = api.value(0), y0 = api.value(1), y1 = api.value(2), k = api.value(3);
          const p1 = api.coord([c - 0.45, y1]), p2 = api.coord([c + 0.45, y0]);
          return { type: 'rect', shape: { x: p1[0], y: p1[1], width: p2[0] - p1[0], height: p2[1] - p1[1] },
            style: { fill: k === 3 ? 'none' : D_FILLS[k], stroke: k === 3 ? '#111' : '#2a2a2a', lineWidth: k === 3 ? 1.6 : 0.8 } };
        },
      });
      const cx = D_LEFTS[col] + D_W / 2 + 3;
      graphic.push(gText(cx, row === 0 ? 877 : 1100, 'χ²=' + chis[col], 26));
    });
  });
  const dTitleX = [898, 1199, 1493, 1801];
  dPeriods.forEach((t, i) => graphic.push(gText(dTitleX[i], 836, t, 32)));
  graphic.push(gText(710, 857, 'F₁', 34, { align: 'left' }));
  graphic.push(gText(710, 1080, 'F₂₂', 34, { align: 'left' }));
  graphic.push(gText(683, 977, 'Gene ratio', 24, { rot: Math.PI / 2 }));
  graphic.push(gText(683, 1195, 'Gene ratio', 24, { rot: Math.PI / 2 }));

  /* ---------- panel letters ---------- */
  graphic.push(gText(43, 24, 'A', 38));
  graphic.push(gText(45, 988, 'B', 38));
  graphic.push(gText(712, 26, 'C', 38));
  graphic.push(gText(700, 826, 'D', 38));

  return {
    animation: false,
    backgroundColor: '#ffffff',
    textStyle: { fontFamily: FONT },
    grid, xAxis, yAxis, series, graphic,
    legend: {
      data: [
        { name: 'in silico hybrid', itemStyle: { color: 'rgba(0,160,135,0.5)', borderColor: '#00A087', borderWidth: 1 } },
        { name: 'F1', itemStyle: { color: 'rgba(230,75,53,0.5)', borderColor: '#E64B35', borderWidth: 1 } },
        { name: 'F22', itemStyle: { color: 'rgba(77,187,213,0.5)', borderColor: '#4DBBD5', borderWidth: 1 } },
      ],
      orient: 'vertical', left: 421, top: 20, itemWidth: 18, itemHeight: 18, itemGap: 3, icon: 'rect', selectedMode: false,
      textStyle: { ...lbl(28), rich: { i: lbl(28, { fontStyle: 'italic' }), b: lbl(28) } },
      formatter: (name: string) => (name === 'in silico hybrid' ? '{i|in silico}{b| hybrid}' : name === 'F1' ? '{b|F₁}' : '{b|F₂₂}'),
    },
    visualMap: [{
      type: 'continuous', seriesIndex: bSeriesIdx, dimension: 3, min: 0, max: 8000, calculable: false, hoverLink: false,
      inRange: { color: ['#d2560c', '#e8946a', '#f8d9c9', '#ffffff', '#c9dbee', '#78a6d3', '#2063a9'] },
      left: 576, top: 1130, itemWidth: 24, itemHeight: 125, padding: 0, orient: 'vertical',
    }],
  };
}

export default function App() {
  const ref = useRef<HTMLDivElement>(null);
  useEffect(() => {
    document.body.style.margin = '0';
    const chart = echarts.init(ref.current as HTMLDivElement, null, { renderer: 'svg' });
    chart.setOption(buildOption() as any);
    return () => chart.dispose();
  }, []);
  return <div ref={ref} style={{ width: 1944, height: 1379, background: '#fff' }} />;
}
